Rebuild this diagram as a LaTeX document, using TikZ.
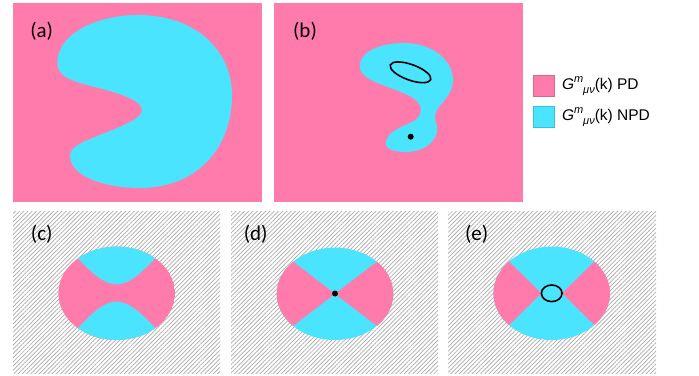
\documentclass[tikz,border=0pt]{standalone}
\usepackage{fontspec}
\setmainfont{Carlito}
\newfontfamily\legendfont{Liberation Sans}
\usetikzlibrary{patterns.meta}
\definecolor{Rose}{HTML}{FF7BAC}
\definecolor{Aqua}{HTML}{4BE4FF}
\definecolor{RoseEdge}{HTML}{D9668F}
\definecolor{AquaEdge}{HTML}{3CBFD8}
\definecolor{Hatch}{HTML}{ABABAB}
\begin{document}
\begin{tikzpicture}[x=1pt,y=-1pt, panel/.style={fill=Rose}, hatchpanel/.style={pattern={Lines[angle=45,distance=3pt,line width=0.7pt]},pattern color=Hatch}, tag/.style={font=\fontsize{21}{24}\selectfont,inner sep=0pt}, key/.style={minimum size=21pt,inner sep=0pt,line width=0.6pt}, keytext/.style={font=\legendfont\fontsize{15.5}{18}\selectfont,anchor=west,inner sep=0pt}, ring/.style={draw=black,line width=1.6pt}]
\useasboundingbox (0,0) rectangle (699,375);
\fill[white] (0,0) rectangle (699,375);
\fill[panel] (13,3) rectangle (262,202);
\fill[panel] (274,3) rectangle (523,202);
\fill[Aqua] (57.3,63) .. controls (57,35) and (95,15) .. (138,15) .. controls (195,15) and (232,50) .. (232,95) .. controls (232,150) and (195,188) .. (140,188) .. controls (108,188) and (72,178) .. (70,157) .. controls (69,146) and (85,141) .. (105,133) .. controls (125,125) and (142,118) .. (142,110) .. controls (142,100) and (118,93) .. (95,87) .. controls (70,81) and (57.5,76) .. (57.3,63) -- cycle;
\fill[Aqua] (360,68) .. controls (358,52) and (380,43) .. (404,43) .. controls (432,43) and (453,60) .. (453,80) .. controls (453,95) and (440,103) .. (436,112) .. controls (433,120) and (438,124) .. (437,132) .. controls (434,145) and (420,152) .. (406,152) .. controls (392,152) and (384,148) .. (386,141) .. controls (388,133) and (398,128) .. (410,123) .. controls (420,119) and (424,110) .. (418,102) .. controls (410,94) and (395,90) .. (385,86) .. controls (372,81) and (361,76) .. (360,68) -- cycle;
\draw[ring] (410.5,72.3) ellipse[x radius=21.5pt,y radius=7.8pt,rotate=-20];
\fill (410.7,136.7) circle[radius=3pt];
\node[tag] (la) at (41.7,31) {(a)};
\node[tag] (lb) at (305,31) {(b)};
\node[key,draw=RoseEdge,fill=Rose] (kpd) at (544,86) {};
\node[key,draw=AquaEdge,fill=Aqua] (knpd) at (544,117) {};
\node[keytext] (tpd) at ([xshift=7pt]kpd.east) {\textit{G}\raisebox{0.45em}{\fontsize{11}{12}\selectfont\textit{m}}\raisebox{-0.3em}{\fontsize{11}{12}\selectfont\textit{μν}}(k) PD};
\node[keytext] (tnpd) at ([xshift=7pt]knpd.east) {\textit{G}\raisebox{0.45em}{\fontsize{11}{12}\selectfont\textit{m}}\raisebox{-0.3em}{\fontsize{11}{12}\selectfont\textit{μν}}(k) NPD};
\fill[hatchpanel] (13,211) rectangle (220,373);
\fill[hatchpanel] (231,211) rectangle (438,373);
\fill[hatchpanel] (448,211) rectangle (656,373);
\begin{scope}
\clip (116.7,293.3) ellipse[x radius=58.3pt,y radius=46.7pt];
\fill[Rose] (116.7,293.3) ellipse[x radius=58.3pt,y radius=46.7pt];
\fill[Aqua] (55,235) -- (77.7,258.3) .. controls (95,276) and (105,284.3) .. (116.7,284.3) .. controls (128.3,284.3) and (138,276) .. (155.7,258.3) -- (178,235) -- cycle;
\fill[Aqua] (55,352) -- (77.7,328.3) .. controls (95,310) and (105,301.7) .. (116.7,301.7) .. controls (128.3,301.7) and (138,310) .. (155.7,328.3) -- (178,352) -- cycle;
\end{scope}
\begin{scope}
\clip (335,293.8) ellipse[x radius=58.3pt,y radius=46.2pt];
\fill[Aqua] (335,293.8) ellipse[x radius=58.3pt,y radius=46.2pt];
\fill[Rose] (335,293.8) -- (251.6,229.8) -- (251.6,357.8) -- cycle;
\fill[Rose] (335,293.8) -- (418.4,229.8) -- (418.4,357.8) -- cycle;
\end{scope}
\fill (335,293.5) circle[radius=3pt];
\begin{scope}
\clip (551.7,293.3) ellipse[x radius=58.3pt,y radius=46.7pt];
\fill[Aqua] (551.7,293.3) ellipse[x radius=58.3pt,y radius=46.7pt];
\fill[Rose] (541.5,293.3) -- (480,233) -- (480,353.6) -- cycle;
\fill[Rose] (562,293.3) -- (623.5,233) -- (623.5,353.6) -- cycle;
\end{scope}
\draw[ring,fill=Aqua] (551.7,293.3) ellipse[x radius=10.3pt,y radius=8.3pt];
\node[tag] (lc) at (41.7,234.5) {(c)};
\node[tag] (ld) at (255.7,234.5) {(d)};
\node[tag] (le) at (476.7,234.5) {(e)};
\end{tikzpicture}
\end{document}
